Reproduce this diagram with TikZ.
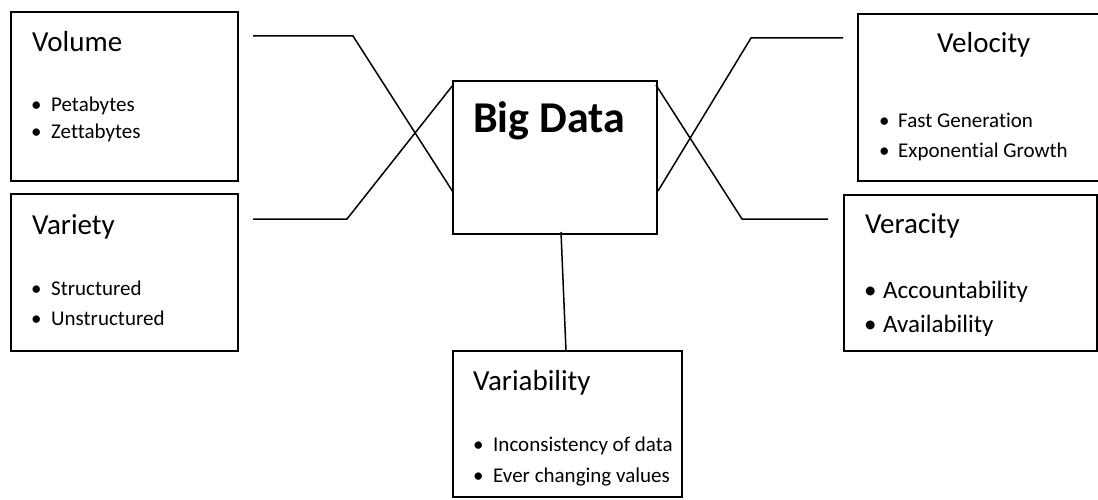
\documentclass[tikz,border=0pt]{standalone}
\usepackage{fontspec}
\setmainfont{Carlito}[Ligatures=CommonOff]
\newcommand\mybul[1]{\makebox[#1][l]{•}}
\begin{document}
\begin{tikzpicture}[x=1pt,y=-1pt,
  box/.style={draw, line width=1.8pt, inner sep=0pt},
  conn/.style={draw, line width=1.5pt},
  ttl/.style={anchor=base west, inner sep=0pt, font=\fontsize{29}{35}\selectfont},
  itm/.style={anchor=base west, inner sep=0pt, font=\fontsize{21}{25}\selectfont},
  itmb/.style={anchor=base west, inner sep=0pt, font=\fontsize{25}{30}\selectfont}]
\useasboundingbox (0,0) rectangle (1098,500);
% boxes
\node[box, minimum width=227pt, minimum height=169pt] (vol) at (124.5,96.5) {};
\node[box, minimum width=227pt, minimum height=157pt] (var) at (124.5,272.5) {};
\node[box, minimum width=204pt, minimum height=153pt] (big) at (555,157.5) {};
\node[box, minimum width=245pt, minimum height=167pt] (vel) at (980.5,97.5) {};
\node[box, minimum width=253pt, minimum height=156pt] (ver) at (970.5,273) {};
\node[box, minimum width=229pt, minimum height=146pt] (vby) at (567.5,424) {};
% texts
\node[ttl] (volt) at (32,52) {Volume};
\node[itm] (vol1) at (31,112) {\mybul{20pt}Petabytes};
\node[itm] (vol2) at (31,139) {\mybul{20pt}Zettabytes};
\node[ttl] (vart) at (32,234) {Variety};
\node[itm] (var1) at (31,295) {\mybul{20pt}Structured};
\node[itm] (var2) at (31,325) {\mybul{20pt}Unstructured};
\node[anchor=base west, inner sep=0pt, font=\fontsize{44}{50}\selectfont\bfseries] (bigt) at (473,133) {Big Data};
\node[ttl] (velt) at (937,53) {Velocity};
\node[itm] (vel1) at (879,128) {\mybul{19pt}Fast Generation};
\node[itm] (vel2) at (879,158) {\mybul{19pt}Exponential Growth};
\node[ttl] (vert) at (865,233) {Veracity};
\node[itmb] (ver1) at (864,298) {\mybul{19pt}Accountability};
\node[itmb] (ver2) at (864,332) {\mybul{19pt}Availability};
\node[ttl] (vbyt) at (473,390) {Variability};
\node[itm] (vby1) at (473,451) {\mybul{20pt}Inconsistency of data};
\node[itm] (vby2) at (473,482) {\mybul{20pt}Ever changing values};
% connector points
\coordinate (a0) at (253,36);
\coordinate (a1) at (353,36);
\coordinate (a2) at (453,192);
\coordinate (b0) at (253,219);
\coordinate (b1) at (347,219);
\coordinate (b2) at (453,85);
\coordinate (c0) at (843,38);
\coordinate (c1) at (751,38);
\coordinate (c2) at (658,191);
\coordinate (d0) at (828,219);
\coordinate (d1) at (742,219);
\coordinate (d2) at (656,85);
\coordinate (e0) at (561,232);
\coordinate (e1) at (566,351);
\draw[conn] (a0) -- (a1) -- (a2);
\draw[conn] (b0) -- (b1) -- (b2);
\draw[conn] (c0) -- (c1) -- (c2);
\draw[conn] (d0) -- (d1) -- (d2);
\draw[conn] (e0) -- (e1);
\end{tikzpicture}
\end{document}
